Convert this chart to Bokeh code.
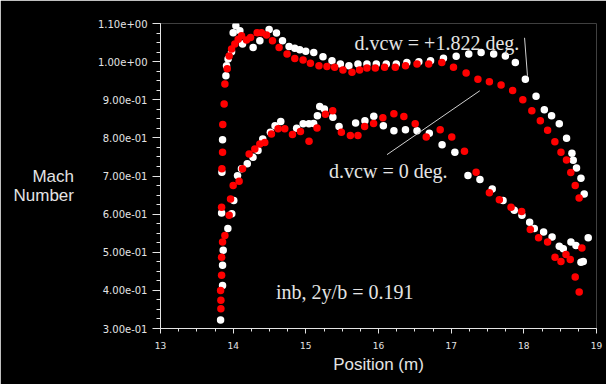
from bokeh.plotting import figure
from bokeh.models import (Range1d, SingleIntervalTicker, CustomJSTickFormatter, Label)
from bokeh.embed import file_html
from bokeh.resources import INLINE

# ---------------- data ----------------
white_upper_x = [13.827, 13.854, 13.854, 13.863, 13.841, 13.845, 13.854, 13.900, 13.909, 13.930,
                 13.978, 14.000, 14.037, 14.092, 14.129, 14.275, 14.367, 14.495, 14.596, 14.679,
                 14.769, 14.848, 14.916, 14.999, 15.109, 15.236, 15.360, 15.475, 15.593, 15.717,
                 15.841, 15.970, 16.107, 16.245, 16.390, 16.555, 16.716, 16.894, 17.069, 17.242,
                 17.412, 17.585, 17.746, 17.883, 18.021, 18.168, 18.282, 18.382, 18.488, 18.588,
                 18.662, 18.680, 18.725, 18.786, 18.831]
white_upper_y = [0.322, 0.413, 0.466, 0.505, 0.603, 0.710, 0.795, 0.963, 0.989, 1.007,
                 1.026, 1.076, 1.094, 1.081, 1.046, 1.037, 1.055, 1.084, 1.075, 1.055,
                 1.040, 1.035, 1.031, 1.027, 1.024, 1.013, 1.002, 0.994, 0.989, 0.994,
                 0.994, 0.994, 0.994, 0.994, 0.998, 1.000, 1.002, 1.009, 1.014, 1.020,
                 1.024, 1.020, 1.015, 0.998, 0.954, 0.909, 0.874, 0.858, 0.837, 0.799,
                 0.760, 0.741, 0.721, 0.694, 0.653]

white_lower_x = [13.927, 13.981, 14.008, 14.060, 14.114, 14.194, 14.273, 14.342, 14.407, 14.512,
                 14.576, 14.655, 14.874, 14.963, 15.043, 15.107, 15.159, 15.191, 15.255, 15.372,
                 15.457, 15.685, 15.813, 15.935, 16.067, 16.212, 16.371, 16.530, 16.699, 16.875,
                 17.051, 17.231, 17.396, 17.565, 17.714, 17.868, 17.974, 18.080, 18.144, 18.272,
                 18.389, 18.488, 18.543, 18.648, 18.717, 18.786, 18.818, 18.886]
white_lower_y = [0.562, 0.601, 0.636, 0.701, 0.719, 0.732, 0.749, 0.767, 0.797, 0.815,
                 0.832, 0.843, 0.825, 0.837, 0.837, 0.838, 0.858, 0.882, 0.876, 0.854,
                 0.830, 0.839, 0.845, 0.857, 0.832, 0.819, 0.821, 0.819, 0.812, 0.782,
                 0.762, 0.701, 0.691, 0.666, 0.636, 0.610, 0.597, 0.579, 0.562, 0.553,
                 0.540, 0.516, 0.509, 0.527, 0.518, 0.474, 0.476, 0.538]

red_upper_x = [13.831, 13.831, 13.827, 13.841, 13.841, 13.854, 13.841, 13.845, 13.854, 13.857,
               13.876, 13.886, 13.918, 13.945, 13.978, 14.023, 14.069, 14.115, 14.184, 14.239,
               14.330, 14.390, 14.459, 14.541, 14.632, 14.742, 14.848, 14.962, 15.063, 15.181,
               15.291, 15.397, 15.511, 15.635, 15.740, 15.841, 15.956, 16.084, 16.231, 16.372,
               16.530, 16.691, 16.871, 17.032, 17.206, 17.368, 17.526, 17.687, 17.846, 17.986,
               18.110, 18.227, 18.327, 18.427, 18.511, 18.587, 18.646, 18.707, 18.761]
red_upper_y = [0.352, 0.374, 0.400, 0.440, 0.487, 0.527, 0.618, 0.719, 0.762, 0.835,
               0.889, 0.941, 0.981, 1.015, 1.033, 1.046, 1.059, 1.068, 1.057, 1.063,
               1.076, 1.076, 1.070, 1.055, 1.037, 1.020, 1.008, 1.004, 0.996, 0.989,
               0.987, 0.985, 0.978, 0.972, 0.978, 0.983, 0.983, 0.985, 0.985, 0.989,
               0.994, 0.994, 0.998, 0.985, 0.970, 0.954, 0.947, 0.939, 0.924, 0.900,
               0.871, 0.845, 0.820, 0.790, 0.762, 0.742, 0.709, 0.675, 0.642]

red_lower_x = [13.886, 13.945, 13.964, 14.000, 14.082, 14.129, 14.220, 14.298, 14.367, 14.435,
               14.527, 14.618, 14.710, 14.816, 14.926, 15.044, 15.154, 15.270, 15.370, 15.489,
               15.613, 15.717, 15.809, 15.933, 16.060, 16.212, 16.349, 16.505, 16.657, 16.849,
               17.008, 17.183, 17.343, 17.526, 17.663, 17.824, 17.970, 18.089, 18.203, 18.327,
               18.429, 18.511, 18.580, 18.639, 18.799, 18.707, 18.762]
red_lower_y = [0.544, 0.597, 0.640, 0.675, 0.686, 0.719, 0.758, 0.771, 0.784, 0.788,
               0.810, 0.824, 0.824, 0.809, 0.817, 0.791, 0.826, 0.862, 0.871, 0.815,
               0.806, 0.806, 0.830, 0.838, 0.853, 0.863, 0.856, 0.837, 0.802, 0.821,
               0.802, 0.765, 0.710, 0.656, 0.638, 0.618, 0.607, 0.560, 0.538, 0.527,
               0.487, 0.476, 0.494, 0.481, 0.511, 0.435, 0.396]

# leader lines of the two annotations
leader_x0 = [18.01, 16.117]
leader_y0 = [1.0625, 0.756]
leader_x1 = [18.05, 17.394]
leader_y1 = [0.963, 0.9236]

annotations = ["d.vcw = +1.822 deg.", "d.vcw = 0 deg.", "inb, 2y/b = 0.191"]
annot_x = [15.67, 15.32, 14.59]
annot_y = [1.050, 0.7127, 0.397]

x_label = "Position (m)"
y_label = "\nMach\nNumber"

# ---------------- figure ----------------
TXT = "#e4e4e4"
p = figure(width=606, height=384, output_backend="svg", toolbar_location=None,
           x_range=Range1d(13, 19), y_range=Range1d(0.3, 1.1),
           background_fill_color="black", border_fill_color="black",
           min_border_left=160, min_border_right=10, min_border_top=23, min_border_bottom=56)
p.outline_line_color = None
p.grid.visible = False

p.xaxis.ticker = SingleIntervalTicker(interval=1, num_minor_ticks=4)
p.yaxis.ticker = SingleIntervalTicker(interval=0.1, num_minor_ticks=4)
p.yaxis.formatter = CustomJSTickFormatter(code="""
    const s = tick.toExponential(2);
    const parts = s.split('e');
    let e = parts[1];
    const sign = e[0];
    let d = e.slice(1);
    if (d.length < 2) { d = '0' + d; }
    return parts[0] + 'e' + sign + d;
""")

for ax in (p.xaxis[0], p.yaxis[0]):
    ax.axis_line_color = TXT
    ax.major_tick_line_color = TXT
    ax.minor_tick_line_color = TXT
    ax.major_tick_in = 0
    ax.minor_tick_in = 0
    ax.major_label_text_color = TXT
    ax.major_label_text_font = "DejaVu Sans"

p.xaxis.major_tick_out = 5
p.xaxis.minor_tick_out = 3
p.xaxis.major_label_text_font_size = "9px"
p.xaxis.major_label_standoff = 8
p.yaxis.major_tick_out = 8
p.yaxis.minor_tick_out = 4
p.yaxis.major_label_text_font_size = "10px"
p.yaxis.major_label_standoff = 5

p.xaxis.axis_label = x_label
p.xaxis.axis_label_text_font = "Liberation Sans"
p.xaxis.axis_label_text_font_size = "17px"
p.xaxis.axis_label_text_font_style = "normal"
p.xaxis.axis_label_text_color = TXT
p.xaxis.axis_label_standoff = 3

p.yaxis.axis_label = y_label
p.yaxis.axis_label_orientation = "horizontal"
p.yaxis.axis_label_text_font = "Liberation Sans"
p.yaxis.axis_label_text_font_size = "17px"
p.yaxis.axis_label_text_font_style = "normal"
p.yaxis.axis_label_text_line_height = 1.0
p.yaxis.axis_label_text_color = TXT
p.yaxis.axis_label_standoff = 21

# points
p.scatter(white_upper_x, white_upper_y, size=7.5, color="white", line_color=None)
p.scatter(white_lower_x, white_lower_y, size=7.5, color="white", line_color=None)
p.scatter(red_upper_x, red_upper_y, size=7.5, color="#ff0000", line_color=None)
p.scatter(red_lower_x, red_lower_y, size=7.5, color="#ff0000", line_color=None)

# leaders
p.segment(leader_x0, leader_y0, leader_x1, leader_y1, line_color="#d0d0d0", line_width=1)

for txt, xx, yy in zip(annotations, annot_x, annot_y):
    p.add_layout(Label(x=xx, y=yy, text=txt, text_align="left", text_baseline="alphabetic",
                       text_font="Liberation Serif", text_font_size="20px", text_color=TXT))

open("out.html", "w").write(file_html(p, INLINE))
